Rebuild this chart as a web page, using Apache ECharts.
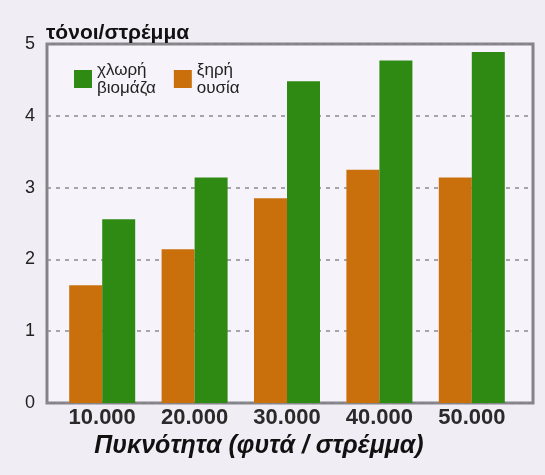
<!DOCTYPE html>
<html>
<head>
<meta charset="utf-8">
<script src="https://cdn.jsdelivr.net/npm/echarts@6/dist/echarts.min.js"></script>
<style>
html,body{margin:0;padding:0;background:#f1edf4;}
#c{width:545px;height:475px;}
</style>
</head>
<body>
<div id="c"></div>
<script>
const categories = ["10.000", "20.000", "30.000", "40.000", "50.000"];
const dryMatter = [1.64, 2.14, 2.85, 3.25, 3.14];
const greenBiomass = [2.56, 3.14, 4.48, 4.77, 4.89];
const yTicks = [0, 1, 2, 3, 4, 5];
const seriesNames = ["ξηρή ουσία", "χλωρή βιομάζα"];
const yTitle = "τόνοι/στρέμμα";
const xTitle = "Πυκνότητα (φυτά / στρέμμα)";

const FONT = 'Liberation Sans';
const chart = echarts.init(document.getElementById('c'));
chart.setOption({
  backgroundColor: '#f1edf4',
  animation: false,
  title: {
    text: yTitle, left: 41, top: 18,
    textStyle: { fontFamily: FONT, fontWeight: 'bold', fontSize: 21, color: '#111' }
  },
  grid: [
    { left: 47, right: 12, top: 44, bottom: 72,
      show: true, borderColor: '#848388', borderWidth: 3, backgroundColor: '#f6f4fa' },
    { left: 56, right: 27, top: 44, bottom: 72, show: false }
  ],
  legend: {
    data: [seriesNames[1], seriesNames[0]],
    left: 69, top: 49,
    icon: 'rect', itemWidth: 18, itemHeight: 18, itemGap: 18,
    formatter: n => n.replace(' ', '\n'),
    textStyle: { fontFamily: FONT, fontSize: 17, lineHeight: 18, color: '#222', padding: [0, 0, 14, 0] }
  },
  xAxis: [
    { gridIndex: 0, type: 'value', show: false, min: 0, max: 1 },
    { gridIndex: 1, type: 'category', data: categories,
      axisLine: { show: false }, axisTick: { show: false },
      axisLabel: { fontFamily: FONT, fontWeight: 'bold', fontSize: 22, color: '#2a2a2a', margin: 4 },
      name: xTitle, nameLocation: 'middle', nameGap: 27,
      nameTextStyle: { fontFamily: FONT, fontWeight: 'bold', fontStyle: 'italic', fontSize: 25, color: '#111',
        padding: [0, 56, 0, 0] } }
  ],
  yAxis: [
    { gridIndex: 0, type: 'value', min: yTicks[0], max: yTicks[yTicks.length - 1], interval: 1,
      axisLine: { show: false }, axisTick: { show: false },
      axisLabel: { fontFamily: FONT, fontSize: 18, color: '#222', margin: 12 },
      splitLine: { show: true, lineStyle: { color: '#8a8a90', type: [4, 5], width: 1.5 } } },
    { gridIndex: 1, type: 'value', min: yTicks[0], max: yTicks[yTicks.length - 1], interval: 1, show: false,
      splitLine: { show: false } }
  ],
  series: [
    { name: seriesNames[0], type: 'bar', xAxisIndex: 1, yAxisIndex: 1, data: dryMatter, barWidth: 33, barGap: '0%',
      itemStyle: { color: '#c9700c' } },
    { name: seriesNames[1], type: 'bar', xAxisIndex: 1, yAxisIndex: 1, data: greenBiomass, barWidth: 33,
      itemStyle: { color: '#2f8a14' } }
  ]
});
</script>
</body>
</html>
